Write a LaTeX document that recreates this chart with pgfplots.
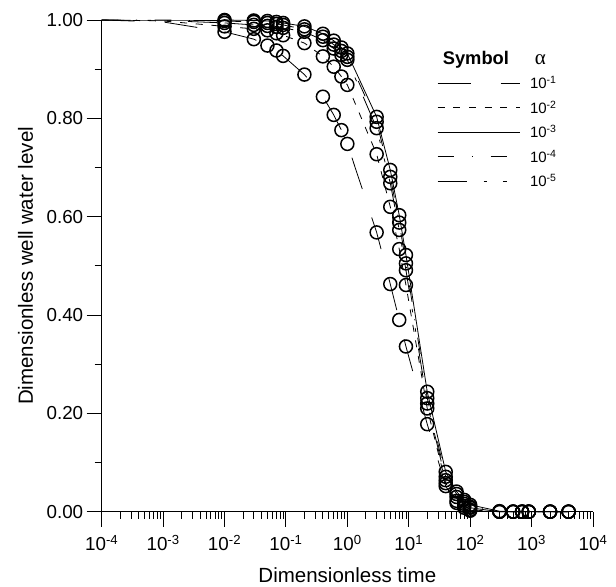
\documentclass[border=0pt]{standalone}
\usepackage{fontspec}
\setmainfont{Liberation Sans}
\newfontfamily\greekfont{Liberation Serif}
\usepackage{pgfplots}
\usepackage{pgfplotstable}
\pgfplotsset{compat=1.18}

\pgfplotstableread{
t y
0.01 0.976
0.03 0.961
0.05 0.948
0.07 0.938
0.09 0.927
0.2 0.889
0.4 0.844
0.6 0.807
0.8 0.776
1 0.748
3 0.568
5 0.463
7 0.390
9 0.336
20 0.178
40 0.052
60 0.018
80 0.008
100 0.002
300 0
500 0
700 0
900 0
2000 0
4000 0
}\dataA

\pgfplotstableread{
t y
0.01 0.987
0.03 0.982
0.05 0.979
0.07 0.973
0.09 0.969
0.2 0.953
0.4 0.926
0.6 0.905
0.8 0.885
1 0.868
3 0.727
5 0.620
7 0.534
9 0.461
20 0.210
40 0.058
60 0.022
80 0.012
100 0.004
300 0
500 0
700 0
900 0
2000 0
4000 0
}\dataB

\pgfplotstableread{
t y
0.01 1.000
0.03 0.999
0.05 0.998
0.07 0.996
0.09 0.994
0.2 0.987
0.4 0.972
0.6 0.958
0.8 0.944
1 0.932
3 0.803
5 0.695
7 0.603
9 0.522
20 0.244
40 0.081
60 0.041
80 0.024
100 0.014
300 0.001
500 0
700 0
900 0
2000 0
4000 0
}\dataC

\pgfplotstableread{
t y
0.01 0.998
0.03 0.996
0.05 0.994
0.07 0.992
0.09 0.990
0.2 0.981
0.4 0.966
0.6 0.950
0.8 0.937
1 0.925
3 0.793
5 0.681
7 0.588
9 0.505
20 0.231
40 0.071
60 0.036
80 0.020
100 0.010
300 0
500 0
700 0
900 0
2000 0
4000 0
}\dataD

\pgfplotstableread{
t y
0.01 0.994
0.03 0.990
0.05 0.988
0.07 0.986
0.09 0.984
0.2 0.976
0.4 0.959
0.6 0.942
0.8 0.929
1 0.919
3 0.780
5 0.668
7 0.573
9 0.491
20 0.220
40 0.064
60 0.030
80 0.016
100 0.008
300 0
500 0
700 0
900 0
2000 0
4000 0
}\dataE

\tikzset{
  stA/.style={black, line width=0.8bp, dash pattern=on 33bp off 30bp},
  stB/.style={black, line width=0.8bp, dash pattern=on 7bp off 8.7bp},
  stC/.style={black, line width=0.8bp, solid},
  stD/.style={black, line width=0.8bp, dash pattern=on 16.7bp off 17.5bp on 1.2bp off 17.5bp},
  stE/.style={black, line width=0.8bp, dash pattern=on 29bp off 17bp on 3.5bp off 15.7bp on 4bp off 17bp},
  circ/.style={mark=o, mark size=6.5bp, mark options={solid, line width=1.5bp, black}},
}

\begin{document}
\begin{tikzpicture}
\begin{axis}[
  name=ax,
  scale only axis,
  width=491.3bp, height=491.7bp,
  xmode=log,
  xmin=1e-4, xmax=1e4,
  ymin=0, ymax=1,
  clip=false,
  axis lines*=left,
  axis line style={line width=0.9bp, -},
  tick style={line width=0.9bp, black},
  tick align=outside,
  major tick length=15bp,
  minor tick length=7bp,
  xtick={1e-4,1e-3,1e-2,1e-1,1,10,100,1000,10000},
  xticklabels={10\textsuperscript{-4},10\textsuperscript{-3},10\textsuperscript{-2},10\textsuperscript{-1},10\textsuperscript{0},10\textsuperscript{1},10\textsuperscript{2},10\textsuperscript{3},10\textsuperscript{4}},
  minor xtick={2e-4,3e-4,4e-4,5e-4,6e-4,7e-4,8e-4,9e-4,
               2e-3,3e-3,4e-3,5e-3,6e-3,7e-3,8e-3,9e-3,
               2e-2,3e-2,4e-2,5e-2,6e-2,7e-2,8e-2,9e-2,
               0.2,0.3,0.4,0.5,0.6,0.7,0.8,0.9,
               2,3,4,5,6,7,8,9,
               20,30,40,50,60,70,80,90,
               200,300,400,500,600,700,800,900,
               2000,3000,4000,5000,6000,7000,8000,9000},
  ytick={0,0.2,0.4,0.6,0.8,1},
  yticklabels={0.00,0.20,0.40,0.60,0.80,1.00},
  minor ytick={0.1,0.3,0.5,0.7,0.9},
  ticklabel style={font=\fontsize{18.8bp}{22bp}\selectfont},
  xticklabel style={yshift=-5bp},
  label style={font=\fontsize{20.5bp}{24bp}\selectfont},
  xlabel={Dimensionless time},
  ylabel={Dimensionless well water level},
  xlabel style={at={(axis description cs:0.5,0)}, anchor=base, yshift=-70.5bp},
  ylabel style={at={(axis description cs:0,0.5)}, anchor=base, yshift=68.7bp},
  legend style={draw=none, fill=none, at={(rel axis cs:0.6764,0.892)}, anchor=north west,
    font=\fontsize{15bp}{18bp}\selectfont, row sep=8.5bp,
    nodes={inner sep=1bp}},
  legend cell align=left,
  legend image code/.code={\draw[#1] (0bp,0bp) -- (82bp,0bp);},
]
\addlegendimage{stA}
\addlegendentry{\hspace{9bp}10\textsuperscript{-1}}
\addlegendimage{stB}
\addlegendentry{\hspace{9bp}10\textsuperscript{-2}}
\addlegendimage{stC}
\addlegendentry{\hspace{9bp}10\textsuperscript{-3}}
\addlegendimage{stD}
\addlegendentry{\hspace{9bp}10\textsuperscript{-4}}
\addlegendimage{stE}
\addlegendentry{\hspace{9bp}10\textsuperscript{-5}}

\addplot[stA, forget plot] coordinates {(1e-4,1) (1e-3,0.996) (1e-2,0.976)};
\addplot[stB, forget plot] coordinates {(1e-4,1) (1e-3,0.998) (1e-2,0.987)};
\addplot[stC, forget plot] coordinates {(1e-4,1) (1e-3,1) (1e-2,1)};
\addplot[stD, forget plot] coordinates {(1e-4,1) (1e-3,1) (1e-2,0.998)};
\addplot[stE, forget plot] coordinates {(1e-4,1) (1e-3,0.999) (1e-2,0.994)};

\addplot[stA, circ, forget plot] table[x=t, y=y] {\dataA};
\addplot[stB, circ, forget plot] table[x=t, y=y] {\dataB};
\addplot[stC, circ, forget plot] table[x=t, y=y] {\dataC};
\addplot[stD, circ, forget plot] table[x=t, y=y] {\dataD};
\addplot[stE, circ, forget plot] table[x=t, y=y] {\dataE};

\node[anchor=base west, font=\fontsize{18.3bp}{22bp}\selectfont\bfseries, inner sep=0pt] at (rel axis cs:0.694,0.9085) {Symbol};
\node[anchor=base, font=\fontsize{21bp}{24bp}\selectfont\greekfont, inner sep=0pt] at (rel axis cs:0.893,0.9085) {α};
\end{axis}
\path ([xshift=-101.7bp,yshift=-75.3bp]ax.south west) rectangle ([xshift=514.3bp,yshift=511.7bp]ax.south west);
\end{tikzpicture}
\end{document}
